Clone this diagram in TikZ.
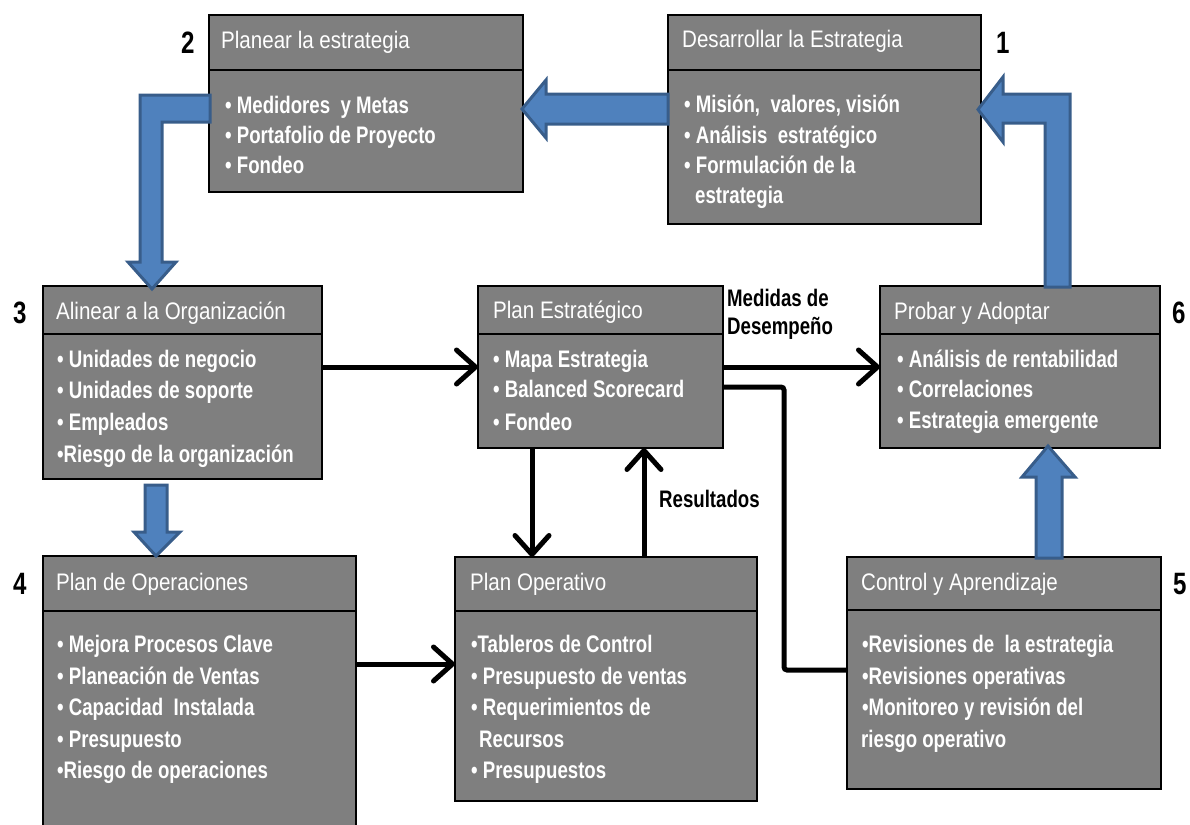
\documentclass[tikz,border=0pt]{standalone}
\usepackage{fontspec}
\setmainfont{Liberation Sans}
\newfontfamily\hdrfont{Liberation Sans}[FakeStretch=0.86]
\newfontfamily\itemfont{Liberation Sans}[FakeStretch=0.78]
\usetikzlibrary{arrows.meta,calc}
\definecolor{boxgray}{RGB}{127,127,127}
\definecolor{blockfill}{RGB}{79,129,189}
\definecolor{blockline}{RGB}{56,93,138}
\newcommand\mybox[6]{%
  \node[box, minimum width=#4bp, minimum height=#5bp] (#1) at (#2,#3) {};
  \draw[line width=1.5bp] ($(#1.north west)+(0,#6)$) -- ($(#1.north east)+(0,#6)$);
}
\newcommand\itm[4]{\node[item] (#1) at (#2,#3) {#4};}
\newcommand\hdr[4]{\node[hdrtext] (#1) at (#2,#3) {#4};}
\begin{document}
\begin{tikzpicture}[x=1bp,y=-1bp,
  box/.style={draw=black, line width=1.5bp, fill=boxgray, rectangle, anchor=north west, inner sep=0pt, outer sep=0pt},
  hdrtext/.style={anchor=base west, inner sep=0pt, text=white, font=\hdrfont\fontsize{24}{28}\selectfont},
  item/.style={anchor=base west, inner sep=0pt, text=white, font=\itemfont\bfseries\fontsize{24}{28}\selectfont},
  lbl/.style={anchor=base west, inner sep=0pt, text=black, font=\itemfont\bfseries\fontsize{24}{28}\selectfont},
  num/.style={anchor=base west, inner sep=0pt, text=black, font=\itemfont\bfseries\fontsize{31}{34}\selectfont},
  conn/.style={line width=5bp, draw=black},
  arr/.style={conn, -{Straight Barb[length=19bp,width=34bp,round]}},
  block/.style={fill=blockfill, draw=blockline, line width=3bp, line join=miter}
]
\useasboundingbox (0,0) rectangle (1190,825);
\clip (0,0) rectangle (1190,825);

% boxes
\mybox{b2}{209}{15}{314}{177}{55}
\mybox{b1}{668}{15}{313}{209}{55}
\mybox{b3}{43}{286}{279}{193}{48}
\mybox{pe}{478}{286}{245}{162}{48}
\mybox{b6}{880}{286}{280}{162}{48}
\mybox{b4}{43}{556}{313}{300}{55}
\mybox{po}{455}{557}{302}{244}{54}
\mybox{b5}{847}{557}{314}{232}{53}

% box 2
\hdr{h2}{221}{48}{Planear la estrategia}
\itm{b2a}{225}{113}{\textbullet\ Medidores\ \ y Metas}
\itm{b2b}{225}{143}{\textbullet\ Portafolio de Proyecto}
\itm{b2c}{225}{173}{\textbullet\ Fondeo}
% box 1
\hdr{h1}{682}{47}{Desarrollar la Estrategia}
\itm{b1a}{684}{112}{\textbullet\ Misión,\ \ valores, visión}
\itm{b1b}{684}{143}{\textbullet\ Análisis\ \ estratégico}
\itm{b1c}{684}{173}{\textbullet\ Formulación de la}
\itm{b1d}{695}{203}{estrategia}
% box 3
\hdr{h3}{56}{319}{Alinear a la Organización}
\itm{b3a}{57}{367}{\textbullet\ Unidades de negocio}
\itm{b3b}{57}{398}{\textbullet\ Unidades de soporte}
\itm{b3c}{57}{430}{\textbullet\ Empleados}
\itm{b3d}{57}{462}{\textbullet Riesgo de la organización}
% plan estrategico
\hdr{hpe}{493}{318}{Plan Estratégico}
\itm{pea}{493}{367}{\textbullet\ Mapa Estrategia}
\itm{peb}{493}{397}{\textbullet\ Balanced Scorecard}
\itm{pec}{493}{430}{\textbullet\ Fondeo}
% box 6
\hdr{h6}{894}{319}{Probar y Adoptar}
\itm{b6a}{897}{367}{\textbullet\ Análisis de rentabilidad}
\itm{b6b}{897}{397}{\textbullet\ Correlaciones}
\itm{b6c}{897}{428}{\textbullet\ Estrategia emergente}
% box 4
\hdr{h4}{56}{590}{Plan de Operaciones}
\itm{b4a}{57}{652}{\textbullet\ Mejora Procesos Clave}
\itm{b4b}{57}{684}{\textbullet\ Planeación de Ventas}
\itm{b4c}{57}{715}{\textbullet\ Capacidad\ \ Instalada}
\itm{b4d}{57}{747}{\textbullet\ Presupuesto}
\itm{b4e}{57}{778}{\textbullet Riesgo de operaciones}
% plan operativo
\hdr{hpo}{470}{590}{Plan Operativo}
\itm{poa}{471}{652}{\textbullet Tableros de Control}
\itm{pob}{471}{684}{\textbullet\ Presupuesto de ventas}
\itm{poc}{471}{715}{\textbullet\ Requerimientos de}
\itm{pod}{479}{747}{Recursos}
\itm{poe}{471}{778}{\textbullet\ Presupuestos}
% box 5
\hdr{h5}{861}{590}{Control y Aprendizaje}
\itm{b5a}{862}{652}{\textbullet Revisiones de\ \ la estrategia}
\itm{b5b}{862}{684}{\textbullet Revisiones operativas}
\itm{b5c}{862}{715}{\textbullet Monitoreo y revisión del}
\itm{b5d}{861}{747}{riesgo operativo}

% numbers
\node[num] (n2) at (181,53) {2};
\node[num] (n1) at (996,53) {1};
\node[num] (n3) at (13,323) {3};
\node[num] (n4) at (13,594) {4};
\node[num] (n6) at (1172,323) {6};
\node[num] (n5) at (1173,594) {5};

% labels
\node[lbl] (med1) at (727,306) {Medidas de};
\node[lbl] (med2) at (727,334) {Desempeño};
\node[lbl] (res) at (659,507) {Resultados};

% black connectors
\coordinate (yA) at (0,367);
\coordinate (yB) at (0,664);
\coordinate (yC) at (0,387);
\coordinate (yD) at (0,670);
\coordinate (xA) at (532,0);
\coordinate (xB) at (644,0);
\coordinate (xC) at (784,0);
\draw[arr] (b3.east |- yA) -- (pe.west |- yA);
\draw[arr] (pe.east |- yA) -- (b6.west |- yA);
\draw[arr] (b4.east |- yB) -- (po.west |- yB);
\draw[arr] (pe.south -| xA) -- (po.north -| xA);
\draw[arr] (po.north -| xB) -- (pe.south -| xB);
\draw[conn, rounded corners=3bp] (pe.east |- yC) -- (xC |- yC) -- (xC |- yD) -- (b5.west |- yD);

% blue block arrows
\draw[block] (668,94) -- (546,94) -- (546,80) -- (522,109) -- (546,138) -- (546,124) -- (668,124) -- cycle;
\draw[block] (1045,287) -- (1070,287) -- (1070,94) -- (1003,94) -- (1003,77) -- (978,109.5) -- (1003,142) -- (1003,123) -- (1045,123) -- cycle;
\draw[block] (210,95) -- (140,95) -- (140,262) -- (128,262) -- (152,289) -- (176,262) -- (162,262) -- (162,122) -- (210,122) -- cycle;
\draw[block] (145,485) -- (167,485) -- (167,532) -- (180,532) -- (156,556) -- (134,532) -- (145,532) -- cycle;
\draw[block] (1036,558) -- (1062,558) -- (1062,477) -- (1075,477) -- (1048,446) -- (1022,477) -- (1036,477) -- cycle;
\end{tikzpicture}
\end{document}
